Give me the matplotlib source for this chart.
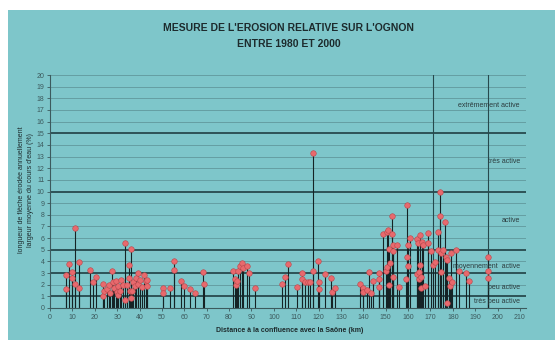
import matplotlib.pyplot as plt
from matplotlib.patches import Rectangle

# distance to the Saône confluence (km) and relative erosion (%)
km = [7.0, 7.0, 8.3, 9.8, 9.8, 11.3, 11.3, 12.8, 12.8, 17.7, 19.4, 20.6, 23.8, 23.8, 24.3,
      25.5, 26.5, 27.0, 27.9, 28.0, 28.5, 29.5, 29.8, 30.2, 30.5, 31.3, 31.9, 32.5, 33.5,
      33.5, 34.3, 35.2, 35.5, 35.8, 36.0, 36.0, 36.5, 37.2, 38.0, 38.3, 39.4, 39.5, 40.3,
      41.0, 41.8, 42.8, 43.5, 43.5,
      50.6, 50.6, 53.6, 55.4, 55.4, 58.7, 59.9, 62.6, 64.9, 68.5, 68.8, 81.9, 82.5, 82.9,
      83.6, 84.1, 84.9, 85.8, 86.4, 88.2, 88.8, 91.5, 103.6, 104.8, 106.4, 110.3,
      112.5, 112.5, 113.9, 115.4, 116.4, 117.5, 117.6, 119.9, 120.3, 120.3, 122.9, 125.4,
      125.8, 127.3,
      138.5, 140.0, 140.0, 141.8, 142.7, 143.4, 144.2, 147.1, 147.1, 147.1, 148.9, 150.1,
      150.4, 150.6, 151.1, 151.5, 151.6, 151.8, 152.7, 152.8, 153.1, 153.1, 153.1, 155.0,
      156.1,
      159.2, 159.4, 159.6, 160.1, 160.1, 160.8, 163.8, 163.8, 164.6, 164.8, 165.0, 165.3,
      165.3, 165.8, 166.0, 166.1, 166.8, 167.7, 168.7, 169.1, 170.2, 171.2, 172.1, 173.2,
      173.2, 174.2, 174.4, 174.7, 174.7, 175.4, 176.5, 176.9, 177.6, 177.6, 178.3, 178.6,
      179.1, 179.6, 181.4, 182.9, 185.9, 187.4, 195.7, 195.7, 195.7]
erosion = [2.8, 1.66, 3.75, 3.1, 2.6, 6.9, 2.05, 3.95, 1.72, 3.25, 2.22, 2.7, 2.1, 1.0, 1.5,
           1.6, 2.0, 1.3, 3.2, 2.2, 1.7, 2.3, 1.4, 1.85, 1.1, 1.5, 2.4, 2.0, 5.6,
           0.7, 2.0, 2.6, 3.7, 1.5, 5.05, 0.9, 1.5, 2.25, 1.85, 2.55, 3.0, 2.1, 2.4,
           1.8, 2.85, 2.3, 1.9, 2.4,
           1.7, 1.25, 1.7, 4.05, 3.25, 2.3, 1.9, 1.6, 1.25, 3.1, 2.1, 3.2, 2.5, 2.0,
           2.35, 3.2, 3.6, 3.9, 3.45, 3.6, 3.0, 1.7, 2.1, 2.7, 3.8, 1.8,
           3.0, 2.45, 2.25, 2.25, 2.25, 13.3, 3.2, 4.0, 2.25, 1.6, 2.9, 2.6,
           1.4, 1.7,
           2.05, 1.7, 1.35, 1.55, 3.1, 1.25, 2.3, 3.0, 2.5, 1.8, 6.35, 3.2,
           6.55, 3.55, 6.7, 5.1, 2.0, 3.9, 7.9, 6.35, 5.4, 4.85, 2.7, 5.4,
           1.8,
           2.5, 4.35, 8.8, 3.6, 5.4, 6.0, 5.9, 2.9, 5.6, 2.45, 3.1, 6.3,
           3.65, 1.7, 2.65, 5.7, 5.4, 1.85, 5.55, 6.4, 4.9, 3.65, 3.95, 6.55,
           5.0, 7.9, 10.0, 4.7, 3.1, 5.0, 7.4, 4.4, 4.1, 0.4, 2.55, 1.85,
           4.75, 2.25, 5.0, 3.15, 3.0, 2.35, 4.35, 3.2, 2.6]

# activity classes and their upper limits
class_limits = [1, 3, 5, 10, 15]
class_names = ["très peu active", "peu active", "moyennement  active", "active",
               "très active", "extrêmement active"]
class_y = [0.55, 1.75, 3.6, 7.5, 12.6, 17.4]

markers_km = [171.3, 195.8]

title = "MESURE DE L'EROSION RELATIVE SUR L'OGNON\nENTRE 1980 ET 2000"
xlabel = "Distance à la confluence avec la Saône (km)"
ylabel = "longueur de flèche érodée annuellement\nlargeur moyenne du cours d'eau (%)"


def main():
    plt.rcParams['font.family'] = ['Liberation Sans', 'DejaVu Sans']
    teal = '#7ec6ca'
    fig = plt.figure(figsize=(5.55, 3.40), dpi=100, facecolor='white')
    fig.patches.append(Rectangle((8 / 555, 0), 1, 1 - 10 / 340, transform=fig.transFigure,
                                 facecolor=teal, edgecolor='none', zorder=-5))
    ax = fig.add_axes([50 / 555, 1 - 308 / 340, 476 / 555, 233 / 340])
    ax.set_zorder(2)
    ax.patch.set_alpha(0)

    ax.set_xlim(0, 212.7)
    ax.set_ylim(0, 20)
    ax.set_xticks(range(0, 211, 10))
    ax.set_yticks(range(0, 21))

    for y in range(1, 21):
        if y in class_limits:
            ax.axhline(y, color='#27494d', lw=1.3, zorder=1)
        else:
            ax.axhline(y, color='#5b8e93', lw=0.5, zorder=1)
    for x in markers_km:
        ax.axvline(x, color='#27494d', lw=0.8, zorder=1)

    ax.vlines(km, 0, erosion, colors='#152325', lw=0.8, zorder=2)
    ax.plot(km, erosion, 'o', ms=4.0, mfc='#e8696d', mec='#b9474b', mew=0.4, zorder=3)

    for name, y in zip(class_names, class_y):
        ax.text(210, y, name, fontsize=5, color='#2b3b3d', ha='right', va='center', zorder=4)

    for side in ['top', 'right']:
        ax.spines[side].set_visible(False)
    for side in ['left', 'bottom']:
        ax.spines[side].set_color('#3c5a5d')
        ax.spines[side].set_linewidth(0.8)
    ax.tick_params(labelsize=5, colors='#3c5a5d', length=2, width=0.6, pad=2)

    fig.text(0.52, 1 - 36 / 340, title, ha='center', va='center', fontsize=7.5,
             fontweight='bold', color='#1d2b2d', linespacing=1.7)
    fig.text(290 / 555, 1 - 331 / 340, xlabel, ha='center', va='center', fontsize=5,
             fontweight='bold', color='#1d2b2d')
    fig.text(26 / 555, 1 - 190 / 340, ylabel, ha='center', va='center', fontsize=5,
             rotation=90, color='#1d2b2d', linespacing=1.2)

    fig.savefig('out.png', dpi=100, facecolor='white')


if __name__ == "__main__":
    main()
